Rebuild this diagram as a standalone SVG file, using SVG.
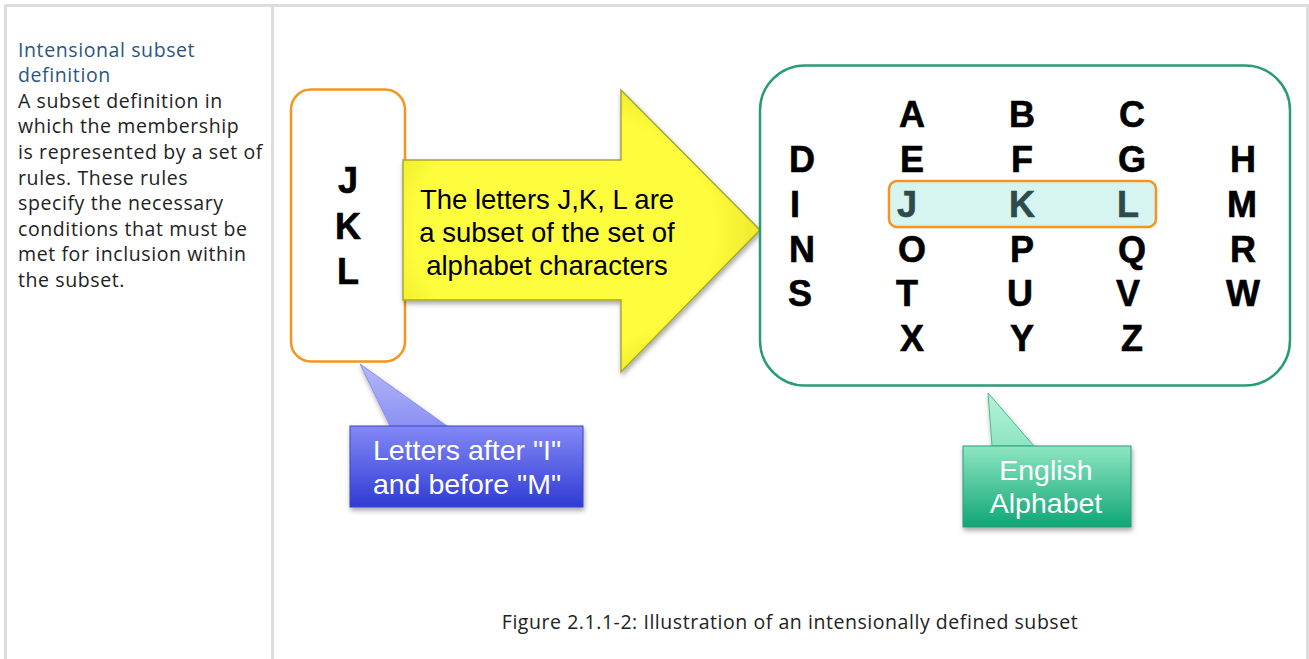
<svg xmlns="http://www.w3.org/2000/svg" width="1309" height="659" viewBox="0 0 1309 659">
<defs>
<style>
.grid{fill:none;stroke:#dddddd;stroke-width:3}
.side{font-family:"Open Sans","DejaVu Sans",sans-serif;font-size:19.5px;letter-spacing:0.6px;fill:#222222}
.sideh{fill:#2a5583}
.big{font-family:"Liberation Sans",Arial,sans-serif;font-weight:bold;font-size:36px;fill:#000;stroke:#000;stroke-width:0.6;text-anchor:middle}
.arrowt{font-family:"Liberation Sans",Arial,sans-serif;font-size:27.5px;fill:#000;text-anchor:middle}
.callt{font-family:"Liberation Sans",Arial,sans-serif;font-size:28.5px;fill:#fff;text-anchor:middle}
.cap{font-family:"Open Sans","DejaVu Sans",sans-serif;font-size:19.5px;letter-spacing:0.55px;fill:#222;text-anchor:middle}
</style>
<linearGradient id="blueG" x1="0" y1="0" x2="0" y2="1">
<stop offset="0" stop-color="#8489f7"/>
<stop offset="1" stop-color="#2f3bd3"/>
</linearGradient>
<linearGradient id="blueP" x1="0" y1="0" x2="0" y2="1">
<stop offset="0" stop-color="#b4b8fa"/>
<stop offset="1" stop-color="#8a90f2"/>
</linearGradient>
<linearGradient id="greenG" x1="0" y1="0" x2="0" y2="1">
<stop offset="0" stop-color="#8ee6c2"/>
<stop offset="1" stop-color="#0fa676"/>
</linearGradient>
<linearGradient id="greenP" x1="0" y1="0" x2="0" y2="1">
<stop offset="0" stop-color="#b6f1d9"/>
<stop offset="1" stop-color="#8fe5c2"/>
</linearGradient>
<radialGradient id="yellowG" cx="0.45" cy="0.5" r="0.6">
<stop offset="0.7" stop-color="#fdfd3c"/>
<stop offset="1" stop-color="#e4e224"/>
</radialGradient>
<filter id="sh" x="-10%" y="-10%" width="130%" height="130%">
<feDropShadow dx="1" dy="3" stdDeviation="2.5" flood-color="#000" flood-opacity="0.35"/>
</filter>
</defs>

<g id="table">
<path class="grid" d="M5.5,659 V5.5 H1307.5 V659 M272.5,5.5 V659"/>
</g>

<g id="sidebar">
<text class="side sideh" x="18" y="57">Intensional subset</text>
<text class="side sideh" x="18" y="82">definition</text>
<text class="side" x="18" y="108">A subset definition in</text>
<text class="side" x="18" y="133">which the membership</text>
<text class="side" x="18" y="159">is represented by a set of</text>
<text class="side" x="18" y="185">rules. These rules</text>
<text class="side" x="18" y="210">specify the necessary</text>
<text class="side" x="18" y="236">conditions that must be</text>
<text class="side" x="18" y="261">met for inclusion within</text>
<text class="side" x="18" y="287">the subset.</text>
</g>

<g id="jkl-box">
<rect x="291" y="89.5" width="114" height="272" rx="20" fill="#fff" stroke="#f7931e" stroke-width="2.5"/>
<text class="big" x="348" y="193">J</text>
<text class="big" x="348" y="239">K</text>
<text class="big" x="348" y="284">L</text>
</g>

<g id="connectors">
<g id="arrow" filter="url(#sh)">
<path d="M403,160 L621,160 L621,90 L760,230 L621,372 L621,300 L403,300 Z" fill="url(#yellowG)" stroke="#a9a530" stroke-width="1.5" stroke-linejoin="miter"/>
</g>
<text class="arrowt" x="547" y="209">The letters J,K, L are</text>
<text class="arrowt" x="547" y="242">a subset of the set of</text>
<text class="arrowt" x="547" y="275">alphabet characters</text>
</g>

<g id="alphabet">
<rect x="760" y="65.5" width="530" height="320" rx="45" fill="#fff" stroke="#2a9a78" stroke-width="2.5"/>
<rect x="889" y="181" width="267" height="46" rx="8" fill="#d6f5f0" stroke="#f7931e" stroke-width="2.5"/>
<text class="big" x="912" y="127">A</text>
<text class="big" x="1022" y="127">B</text>
<text class="big" x="1132" y="127">C</text>
<text class="big" x="802" y="172">D</text>
<text class="big" x="912" y="172">E</text>
<text class="big" x="1022" y="172">F</text>
<text class="big" x="1132" y="172">G</text>
<text class="big" x="1243" y="172">H</text>
<text class="big" x="795" y="217">I</text>
<text class="big" x="907" y="217" style="fill:#2e4a4a;stroke:#2e4a4a">J</text>
<text class="big" x="1022" y="217" style="fill:#2e4a4a;stroke:#2e4a4a">K</text>
<text class="big" x="1128" y="217" style="fill:#2e4a4a;stroke:#2e4a4a">L</text>
<text class="big" x="1242" y="217">M</text>
<text class="big" x="802" y="262">N</text>
<text class="big" x="912" y="262">O</text>
<text class="big" x="1022" y="262">P</text>
<text class="big" x="1132" y="262">Q</text>
<text class="big" x="1243" y="262">R</text>
<text class="big" x="800" y="306">S</text>
<text class="big" x="907" y="306">T</text>
<text class="big" x="1020" y="306">U</text>
<text class="big" x="1128" y="306">V</text>
<text class="big" x="1243" y="306">W</text>
<text class="big" x="912" y="351">X</text>
<text class="big" x="1022" y="351">Y</text>
<text class="big" x="1132" y="351">Z</text>
</g>

<g id="callout-rule">
<g filter="url(#sh)">
<path d="M360,364 L447,426 L390,426 Z" fill="url(#blueP)" stroke="#8a90e8" stroke-width="1"/>
<rect x="350" y="426" width="233" height="81" fill="url(#blueG)" stroke="#3a44c8" stroke-width="1"/>
</g>
<text class="callt" x="467" y="460">Letters after "I"</text>
<text class="callt" x="467" y="494">and before "M"</text>
</g>

<g id="callout-alphabet">
<g filter="url(#sh)">
<path d="M988,393 L1034,446 L992,446 Z" fill="url(#greenP)" stroke="#4fb893" stroke-width="1"/>
<rect x="963" y="446" width="168" height="81" fill="url(#greenG)" stroke="#2a9a78" stroke-width="1"/>
</g>
<text class="callt" x="1046" y="480">English</text>
<text class="callt" x="1046" y="513">Alphabet</text>
</g>

<g id="caption">
<text class="cap" x="790" y="629">Figure 2.1.1-2: Illustration of an intensionally defined subset</text>
</g>
</svg>
